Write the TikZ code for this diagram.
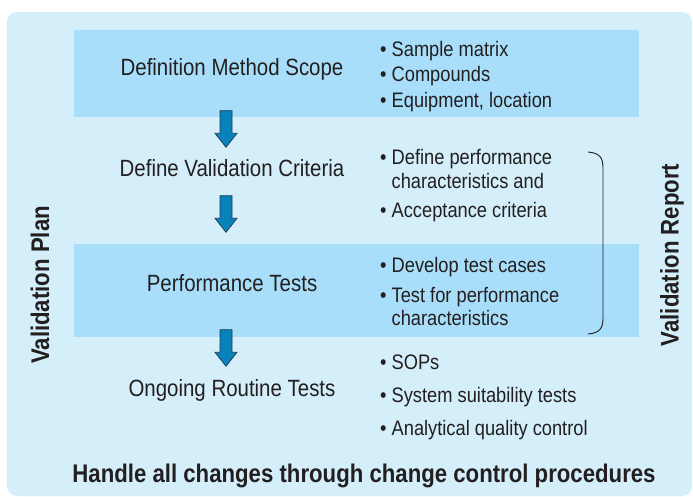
\documentclass[tikz,border=0pt]{standalone}
\usepackage{fontspec}
\setmainfont{Liberation Sans}[FakeStretch=0.87]
\usepackage{tikz}
\usetikzlibrary{calc}
\pgfdeclarelayer{bg}
\pgfsetlayers{bg,main}
\definecolor{panelblue}{RGB}{212,238,250}
\definecolor{bandblue}{RGB}{168,222,249}
\definecolor{arrowblue}{RGB}{8,130,186}
\definecolor{arrowline}{RGB}{30,58,82}
\definecolor{inkgray}{RGB}{35,31,32}
\newcommand{\itm}{\textbullet\ }
\newcommand{\ind}{\hphantom{\textbullet\ }}
\tikzset{
    every node/.style={inner sep=0pt, text=inkgray, font=\fontsize{21}{24}\selectfont},
    stepnode/.style={text height=17pt, text depth=5pt, font=\fontsize{23.5}{27}\selectfont},
    listnode/.style={anchor=west, align=left},
    sidenode/.style={rotate=90, font=\fontsize{25.5}{29}\selectfont\bfseries},
    band/.style={fill=bandblue, draw=none},
    blockarrow/.style={fill=arrowblue, draw=arrowline, line width=0.7pt,
        to path={let \p1=(\tikztostart), \p2=(\tikztotarget) in
            (\x1-6pt,\y1) -- (\x1+6pt,\y1) -- (\x1+6pt,\y2+14pt) -- (\x1+11pt,\y2+14pt)
            -- (\x1,\y2) -- (\x1-11pt,\y2+14pt) -- (\x1-6pt,\y2+14pt) -- cycle}}
}

\begin{document}
\begin{tikzpicture}[x=1pt, y=-1pt]
        \useasboundingbox (0,0) rectangle (693,497);
        \node (scope) [stepnode] at (232, 69.5) {Definition Method Scope};
        \node (crit) [stepnode] at (232, 170.5) {Define Validation Criteria};
        \node (perf) [stepnode] at (232, 285.5) {Performance Tests};
        \node (routine) [stepnode] at (232, 390) {Ongoing Routine Tests};
        \node (scopelist) [listnode] at (380, 76.5) {\itm Sample matrix\\[1.5pt]\itm Compounds\\[2pt]\itm Equipment, location};
        \node (critlist) [listnode] at (380, 185.5) {\itm Define performance\\\ind characteristics and\\[5pt]\itm Acceptance criteria};
        \node (perflist) [listnode] at (380, 291.5) {\itm Develop test cases\\[6pt]\itm Test for performance\\[-1pt]\ind characteristics};
        \node (routinelist) [listnode] at (380, 397) {\itm SOPs\\[9pt]\itm System suitability tests\\[9pt]\itm Analytical quality control};
        \node (plan) [sidenode] at (40, 285) {Validation Plan};
        \node (report) [sidenode] at (672, 255) {Validation Report};
        \node (changes) [font=\fontsize{25.5}{29}\selectfont\bfseries] at (364, 476) {Handle all changes through change control procedures};
        \draw[blockarrow] ([xshift=-6pt, yshift=-30pt]scope.south) to ([xshift=-6pt, yshift=12pt]crit.north);
        \draw[blockarrow] ([xshift=-6pt, yshift=-14pt]crit.south) to ([xshift=-6pt, yshift=42pt]perf.north);
        \draw[blockarrow] ([xshift=-6pt, yshift=-33pt]perf.south) to ([xshift=-6pt, yshift=12.5pt]routine.north);
        \draw[line width=0.9pt, draw=inkgray] (588, 152) .. controls (600, 153) and (603, 158) .. (603, 168)
                -- (603, 318) .. controls (603, 328) and (600, 333) .. (588, 334);
        \begin{pgfonlayer}{bg}
                \fill[panelblue, rounded corners=10pt] (7, 12) rectangle (692, 496);
                \fill[band] (74, 30) rectangle (639, 117);
                \fill[band] (74, 244) rectangle (639, 337);
        \end{pgfonlayer}
\end{tikzpicture}
\end{document}
